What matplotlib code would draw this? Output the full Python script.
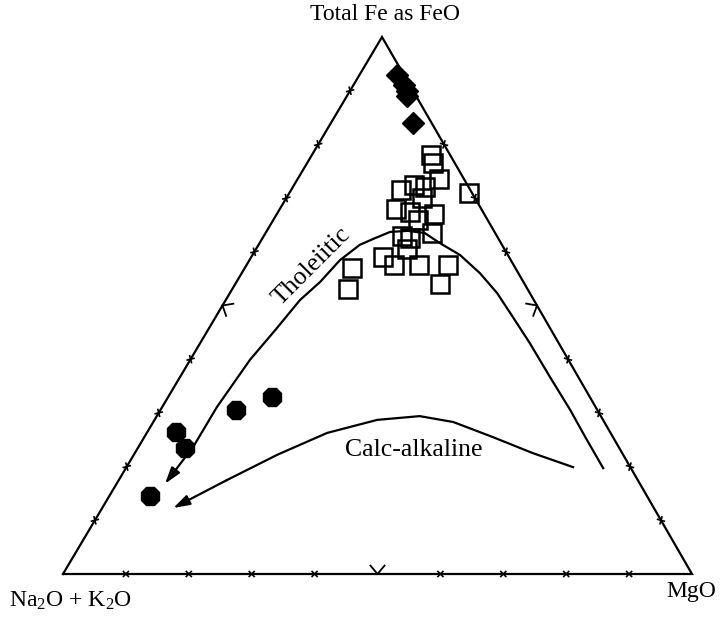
"""
AFM ternary diagram (Na2O+K2O - FeO* - MgO) with the tholeiitic and
calc-alkaline trend lines. Compositions are in percent (A, F, M).
"""

import numpy as np
import matplotlib
matplotlib.use("Agg")
import matplotlib.pyplot as plt

plt.rcParams['font.family'] = ['Liberation Serif', 'DejaVu Serif']
plt.rcParams['mathtext.fontset'] = 'custom'
plt.rcParams['mathtext.rm'] = 'Liberation Serif'
plt.rcParams['mathtext.it'] = 'Liberation Serif:italic'

# --- data (A = Na2O+K2O, F = FeO total, M = MgO), percent ---
diamond_A = [1, 1, 1, 1.5, 3]
diamond_F = [93, 91, 90, 89, 84]
diamond_M = [6, 8, 9, 9.5, 13]

square_A = [3, 3.5, 4, 0.5, 11, 13.5, 7, 8.5, 11.5, 8, 11, 15, 14, 10,
            20, 15.5, 19, 15, 10.5, 13.5, 26, 28.5, 8.5]
square_F = [78, 76.5, 73.5, 71, 71.5, 68, 72, 70, 67.5, 67, 66, 63, 62.5, 63.5,
            59, 60.5, 57.5, 57.5, 57.5, 54, 57, 53, 72.5]
square_M = [19, 20, 22.5, 28.5, 17.5, 18.5, 21, 21.5, 21, 25, 23, 22, 23.5, 26.5,
            21, 24, 23.5, 27.5, 32, 32.5, 17, 18.5, 19]

octagon_A = [50.5, 57.5, 69, 69, 79]
octagon_F = [33, 30.5, 26.5, 23.5, 14.5]
octagon_M = [16.5, 12, 4.5, 7.5, 6.5]

# trend lines, traced from the MgO side towards the alkali corner (last point = arrow tip)
thol_A = [4.4, 4.4, 4.3, 4.5, 4.6, 4.9, 5.2, 6.1, 7.6, 9.7, 11.2, 13.7, 16.6, 19.6,
          22.6, 27.2, 32.3, 37.2, 43.9, 50.6, 60.2, 67.7, 75.5]
thol_F = [19.7, 25.5, 30.5, 36.7, 43.0, 47.9, 52.3, 56.0, 59.4, 61.6, 63.5, 63.9, 63.7, 62.6,
          61.3, 58.5, 54.4, 51.0, 45.4, 39.9, 31.1, 23.7, 16.8]
thol_M = [75.8, 70.1, 65.1, 58.8, 52.4, 47.3, 42.5, 37.9, 33.0, 28.7, 25.3, 22.4, 19.7, 17.9,
          16.1, 14.4, 13.3, 11.8, 10.7, 9.5, 8.7, 8.7, 7.7]

calc_A = [9.1, 14.2, 19.1, 24.0, 28.8, 35.9, 45.1, 55.1, 65.3, 76.5]
calc_F = [19.9, 22.5, 25.5, 28.3, 29.4, 28.7, 26.3, 22.2, 17.5, 12.3]
calc_M = [71.0, 63.3, 55.4, 47.7, 41.8, 35.4, 28.7, 22.8, 17.2, 11.3]

# --- layout: triangle corners in figure pixels ---
W, H = 724, 621
CORNER_A = np.array([63.0, 574.0])
CORNER_F = np.array([382.0, 37.0])
CORNER_M = np.array([692.0, 574.0])


def to_px(a, f, m):
    """Ternary composition -> pixel position."""
    a, f, m = np.asarray(a, float), np.asarray(f, float), np.asarray(m, float)
    s = a + f + m
    a, f, m = a / s, f / s, m / s
    x = a * CORNER_A[0] + f * CORNER_F[0] + m * CORNER_M[0]
    y = a * CORNER_A[1] + f * CORNER_F[1] + m * CORNER_M[1]
    return x, y


fig = plt.figure(figsize=(W / 100, H / 100), dpi=100)
ax = fig.add_axes([0, 0, 1, 1])
ax.set_xlim(0, W)
ax.set_ylim(H, 0)
ax.axis('off')

# triangle frame
tri = np.array([CORNER_A, CORNER_M, CORNER_F, CORNER_A])
ax.plot(tri[:, 0], tri[:, 1], color='black', lw=1.6, solid_joinstyle='miter', zorder=2)

# tick marks every 10 %, a larger chevron at 50 %
centroid = (CORNER_A + CORNER_F + CORNER_M) / 3
for p0, p1 in [(CORNER_A, CORNER_M), (CORNER_M, CORNER_F), (CORNER_F, CORNER_A)]:
    t = (p1 - p0) / np.linalg.norm(p1 - p0)
    n = np.array([-t[1], t[0]])
    if np.dot(centroid - p0, n) < 0:
        n = -n
    for k in range(1, 10):
        p = p0 + (p1 - p0) * k / 10
        if k == 5:
            ang = np.radians(40)
            for sgn in (1, -1):
                q = p + 11 * (n * np.cos(ang) + sgn * t * np.sin(ang))
                ax.plot([p[0], q[0]], [p[1], q[1]], color='black', lw=1.3, zorder=2)
        else:
            for sgn in (1, -1):
                d = (n + sgn * t) / np.sqrt(2)
                ax.plot([p[0] - 3.5 * d[0], p[0] + 3.5 * d[0]],
                        [p[1] - 3.5 * d[1], p[1] + 3.5 * d[1]],
                        color='black', lw=1.2, zorder=2)

# trend lines with arrow heads
for A_, F_, M_ in [(thol_A, thol_F, thol_M), (calc_A, calc_F, calc_M)]:
    x, y = to_px(A_, F_, M_)
    ax.plot(x[:-1], y[:-1], color='black', lw=1.6, solid_joinstyle='round', zorder=3)
    ax.annotate('', xy=(x[-1], y[-1]), xytext=(x[-2], y[-2]),
                arrowprops=dict(arrowstyle='-|>,head_length=0.7,head_width=0.22',
                                color='black', lw=1.6, mutation_scale=14,
                                shrinkA=0, shrinkB=0), zorder=3)

# samples
x, y = to_px(diamond_A, diamond_F, diamond_M)
ax.plot(x, y, 'D', ms=11, color='black', mec='black', zorder=4)
x, y = to_px(square_A, square_F, square_M)
ax.plot(x, y, 's', ms=13.5, mfc='none', mec='black', mew=1.8, zorder=4)
x, y = to_px(octagon_A, octagon_F, octagon_M)
ax.plot(x, y, '8', ms=14, color='black', mec='black', zorder=4)

# labels
ax.text(385, 15, 'Total Fe as FeO', fontsize=17, ha='center', va='center')
ax.text(9, 601, r'Na$_2$O + K$_2$O', fontsize=17, ha='left', va='center')
ax.text(691, 592, 'MgO', fontsize=17, ha='center', va='center')
ax.text(312, 266, 'Tholeiitic', fontsize=18.5, rotation=45,
        ha='center', va='center', rotation_mode='anchor')
ax.text(414, 450, 'Calc-alkaline', fontsize=18.5, ha='center', va='center')

fig.savefig('out.png', dpi=100)
